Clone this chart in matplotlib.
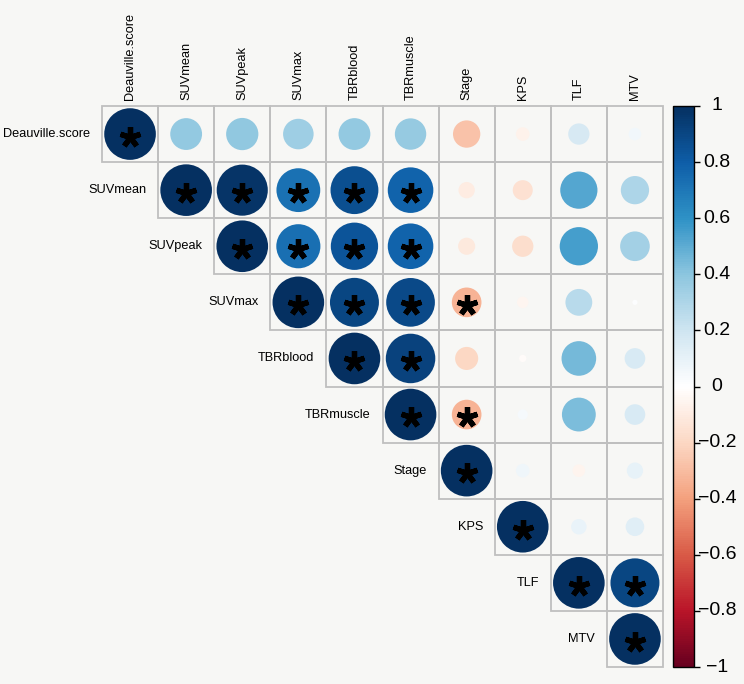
import numpy as np
import matplotlib.pyplot as plt
from matplotlib.colors import LinearSegmentedColormap, Normalize
from matplotlib.patches import Circle, Rectangle
import matplotlib.cm as cm

labels = ['Deauville.score', 'SUVmean', 'SUVpeak', 'SUVmax', 'TBRblood',
          'TBRmuscle', 'Stage', 'KPS', 'TLF', 'MTV']

# upper triangle of the correlation matrix, row by row (diagonal first)
corr_upper = [
    [1, 0.38, 0.39, 0.35, 0.38, 0.37, -0.28, -0.07, 0.17, 0.06],
    [1, 0.98, 0.72, 0.86, 0.78, -0.10, -0.15, 0.52, 0.30],
    [1, 0.73, 0.84, 0.78, -0.11, -0.17, 0.55, 0.33],
    [1, 0.90, 0.89, -0.33, -0.05, 0.27, 0.01],
    [1, 0.92, -0.20, -0.02, 0.45, 0.16],
    [1, -0.33, 0.04, 0.43, 0.16],
    [1, 0.07, -0.06, 0.10],
    [1, 0.09, 0.13],
    [1, 0.90],
    [1],
]
# significance marks (1 = asterisk)
sig_upper = [
    [1, 0, 0, 0, 0, 0, 0, 0, 0, 0],
    [1, 1, 1, 1, 1, 0, 0, 0, 0],
    [1, 1, 1, 1, 0, 0, 0, 0],
    [1, 1, 1, 1, 0, 0, 0],
    [1, 1, 0, 0, 0, 0],
    [1, 1, 0, 0, 0],
    [1, 0, 0, 0],
    [1, 0, 0],
    [1, 1],
    [1],
]
cbar_ticks = [-1, -0.8, -0.6, -0.4, -0.2, 0, 0.2, 0.4, 0.6, 0.8, 1]
cbar_labels = ['\u22121', '\u22120.8', '\u22120.6', '\u22120.4', '\u22120.2', '0',
               '0.2', '0.4', '0.6', '0.8', '1']

n = len(labels)
corr = np.full((n, n), np.nan)
sig = np.zeros((n, n), bool)
for i, row in enumerate(corr_upper):
    corr[i, i:] = row
    sig[i, i:] = np.array(sig_upper[i], bool)

bg = '#f7f7f5'
plt.rcParams['font.family'] = ['Liberation Sans', 'DejaVu Sans']

fig = plt.figure(figsize=(7.44, 6.84), dpi=100, facecolor=bg)
ax = fig.add_axes([102 / 744, 17 / 684, 561 / 744, 561 / 684])
ax.set_xlim(0, n)
ax.set_ylim(n, 0)
ax.axis('off')

cmap = LinearSegmentedColormap.from_list(
    'corrRdBu', ["#67001F", "#BA1529", "#D95B47", "#F4A17E", "#FCD8C4", "#FFFFFF",
                 "#CFE5F1", "#8DC6DF", "#2F92C6", "#0E5EA8", "#053061"])
norm = Normalize(-1, 1)

for i in range(n):
    for j in range(i, n):
        ax.add_patch(Rectangle((j, i), 1, 1, fc='none', ec='#bfbfbf', lw=1.3, clip_on=False))
        r = corr[i, j]
        ax.add_patch(Circle((j + 0.5, i + 0.5), 0.46 * np.sqrt(abs(r)),
                            fc=cmap(norm(r)), ec='none', clip_on=False))
        if sig[i, j]:
            ax.plot(j + 0.5, i + 0.55, marker=(5, 2, 0), ms=15, mew=3.8,
                    color='black', clip_on=False)
    ax.text(i - 0.21, i + 0.5, labels[i], ha='right', va='center', fontsize=9.2)
    ax.text(i + 0.5, -0.11, labels[i], rotation=90, ha='center', va='bottom', fontsize=9.2)

cax = fig.add_axes([672.5 / 744, 17 / 684, 21.5 / 744, 561 / 684])
cb = fig.colorbar(cm.ScalarMappable(norm=norm, cmap=cmap), cax=cax)
cb.outline.set_linewidth(1)
cb.outline.set_edgecolor('black')
cb.set_ticks(cbar_ticks)
cax.set_yticklabels([])
cax.tick_params(length=4.3, width=1, color='black', direction='out')
for t, lab in zip(cbar_ticks, cbar_labels):
    cax.text(2.07, t, lab, transform=cax.get_yaxis_transform(),
             ha='center', va='center', fontsize=14)

fig.savefig('out.png', dpi=100, facecolor=bg)
